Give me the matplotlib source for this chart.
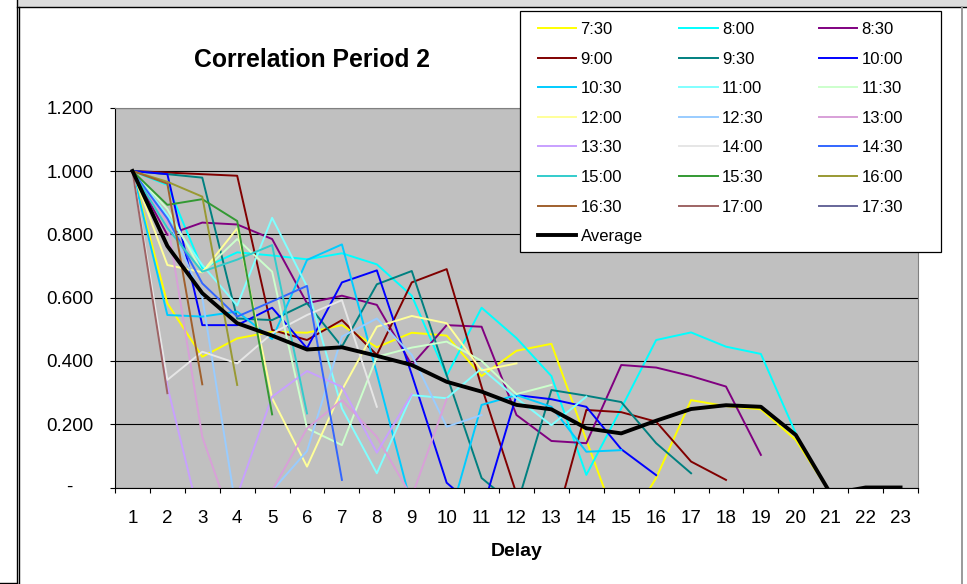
import numpy as np
import matplotlib.pyplot as plt
from matplotlib.lines import Line2D
from matplotlib.patches import Rectangle

plt.rcParams["font.family"] = ["Liberation Sans", "DejaVu Sans"]

W, H = 967, 584

delay = list(range(1, 24))

# correlation by delay for each start time
s0730 = [1.000, 0.582, 0.413, 0.471, 0.492, 0.489, 0.513, 0.443, 0.489, 0.480, 0.352,
         0.432, 0.454, 0.150, -0.150, 0.030, 0.276, 0.257, 0.247, 0.150, -0.020]
s0800 = [1.000, 0.956, 0.692, 0.743, 0.733, 0.721, 0.740, 0.705, 0.606, 0.353, 0.568,
         0.472, 0.352, 0.040, 0.250, 0.466, 0.490, 0.445, 0.422, 0.171]
s0830 = [1.000, 0.798, 0.837, 0.831, 0.785, 0.582, 0.606, 0.577, 0.387, 0.513, 0.508,
         0.229, 0.147, 0.140, 0.387, 0.379, 0.352, 0.319, 0.103]
s0900 = [1.000, 0.995, 0.990, 0.985, 0.498, 0.466, 0.529, 0.419, 0.648, 0.690, 0.318,
         -0.020, -0.157, 0.245, 0.238, 0.208, 0.082, 0.024]
s0930 = [1.000, 0.990, 0.979, 0.534, 0.529, 0.582, 0.445, 0.642, 0.684, 0.355, 0.030,
         -0.061, 0.308, 0.290, 0.270, 0.140, 0.045]
s1000 = [1.000, 0.990, 0.513, 0.513, 0.568, 0.440, 0.648, 0.686, 0.357, 0.015, -0.080,
         0.292, 0.279, 0.255, 0.121, 0.039]
s1030 = [1.000, 0.545, 0.540, 0.556, 0.469, 0.719, 0.768, 0.360, -0.060, -0.129, 0.261,
         0.292, 0.255, 0.113, 0.118]
s1100 = [1.000, 0.860, 0.703, 0.575, 0.852, 0.635, 0.250, 0.045, 0.292, 0.282, 0.376,
         0.282, 0.197, 0.287]
s1130 = [1.000, 0.880, 0.680, 0.785, 0.682, 0.187, 0.134, 0.413, 0.442, 0.461, 0.400,
         0.295, 0.324]
s1200 = [1.000, 0.703, 0.680, 0.819, 0.282, 0.066, 0.308, 0.508, 0.542, 0.519, 0.370, 0.392]
s1230 = [1.000, 0.850, 0.600, -0.090, -0.010, 0.115, 0.477, 0.534, 0.419, 0.192, 0.229]
s1300 = [1.000, 0.840, 0.160, -0.156, -0.010, 0.187, 0.276, 0.160, -0.030, 0.280]
s1330 = [1.000, 0.320, -0.130, -0.025, 0.287, 0.368, 0.318, 0.110, 0.295]
s1400 = [1.000, 0.340, 0.429, 0.392, 0.487, 0.545, 0.592, 0.255]
s1430 = [1.000, 0.850, 0.645, 0.540, 0.588, 0.637, 0.024]
s1500 = [1.000, 0.820, 0.682, 0.720, 0.766, 0.234]
s1530 = [1.000, 0.893, 0.911, 0.842, 0.231]
s1600 = [1.000, 0.966, 0.919, 0.324]
s1630 = [1.000, 0.960, 0.326]
s1700 = [1.000, 0.298]
s1730 = [1.000]

average = [1.000, 0.763, 0.614, 0.519, 0.480, 0.436, 0.443, 0.416, 0.387, 0.334, 0.303,
           0.261, 0.247, 0.187, 0.171, 0.211, 0.248, 0.260, 0.255, 0.166, -0.020, 0.000, 0.000]

times = ["7:30", "8:00", "8:30", "9:00", "9:30", "10:00", "10:30", "11:00", "11:30",
         "12:00", "12:30", "13:00", "13:30", "14:00", "14:30", "15:00", "15:30",
         "16:00", "16:30", "17:00", "17:30"]
series = [s0730, s0800, s0830, s0900, s0930, s1000, s1030, s1100, s1130, s1200, s1230,
          s1300, s1330, s1400, s1430, s1500, s1530, s1600, s1630, s1700, s1730]

y_ticks = [0.0, 0.2, 0.4, 0.6, 0.8, 1.0, 1.2]
y_labels = ["", "0.200", "0.400", "0.600", "0.800", "1.000", "1.200"]

colors = ["#FFFF00", "#00FFFF", "#800080", "#800000", "#008080", "#0000FF", "#00CCFF",
          "#80FFFF", "#CCFFCC", "#FFFF99", "#99CCFF", "#D8A0D8", "#C8A0FF", "#E6E6E6",
          "#3366FF", "#33CCCC", "#339933", "#999933", "#A0602D", "#9E6464", "#666699"]


def fx(x):
    return x / W


def fy(y):
    return 1 - y / H


fig = plt.figure(figsize=(W / 100, H / 100), dpi=100)

# window chrome around the chart
fig.add_artist(Rectangle((fx(17), fy(7)), 1 - fx(17), fy(0) - fy(7),
                         transform=fig.transFigure, facecolor="#DCDCDC", edgecolor="none"))
fig.add_artist(Line2D([fx(17), 1], [fy(7), fy(7)], color="black", lw=1))
fig.add_artist(Line2D([fx(16.7), fx(16.7)], [fy(0), fy(583)], color="black", lw=1))
fig.add_artist(Line2D([fx(19.3), fx(19.3)], [fy(7), fy(584)], color="black", lw=1))
fig.add_artist(Line2D([0, fx(17)], [fy(582.5), fy(582.5)], color="black", lw=1))
fig.add_artist(Line2D([fx(962), fx(962)], [fy(7), fy(584)], color="#9A9A9A", lw=1.4))

ax = fig.add_axes([fx(115), fy(487.5), fx(918) - fx(115), fy(107.7) - fy(487.5)])
ax.set_facecolor("#C0C0C0")

handles = []
for lab, vals, c in zip(times, series, colors):
    h, = ax.plot(delay[:len(vals)], vals, color=c, lw=1.4, label=lab)
    handles.append(h)
avg_line, = ax.plot(delay, average, color="black", lw=2.8, label="Average")

ax.set_xlim(0.5, 23.5)
ax.set_ylim(0, 1.2)

ax.set_xticks(np.arange(0.5, 24, 1))
ax.set_xticklabels([])
ax.set_xticks(delay, minor=True)
ax.set_xticklabels([str(d) for d in delay], minor=True)
ax.tick_params(axis="x", which="major", length=3.6, width=0.8, direction="out")
ax.tick_params(axis="x", which="minor", length=0, pad=16, labelsize=13.5)

ax.set_yticks(y_ticks)
ax.set_yticklabels(y_labels)
ax.tick_params(axis="y", length=3.6, width=0.8, pad=12, labelsize=13.5)
ax.text(fx(69 - 115) * W / 803, 0, "-", transform=ax.get_yaxis_transform(),
        ha="center", va="center", fontsize=13.5)

ax.grid(axis="y", color="black", lw=0.8)
for side in ["top", "right"]:
    ax.spines[side].set_color("#808080")
    ax.spines[side].set_linewidth(0.8)
for side in ["left", "bottom"]:
    ax.spines[side].set_color("black")
    ax.spines[side].set_linewidth(0.8)

fig.text(fx(311.5), fy(60), "Correlation Period 2", fontsize=17.8, fontweight="bold",
         ha="center", va="center")
fig.text(fx(517), fy(551), "Delay", fontsize=14, fontweight="bold",
         ha="center", va="center")

# legend box with three columns, filled row by row
fig.add_artist(Rectangle((fx(520), fy(252)), fx(941) - fx(520), fy(11) - fy(252),
                         transform=fig.transFigure, facecolor="white",
                         edgecolor="black", lw=0.9, zorder=4))
columns = [handles[0::3] + [avg_line], handles[1::3], handles[2::3]]
col_x = [538, 679.3, 819]
for hs, x0 in zip(columns, col_x):
    fig.legend(handles=hs, loc="upper left", bbox_to_anchor=(fx(x0), fy(22)),
               frameon=False, fontsize=12, borderpad=0, borderaxespad=0,
               handlelength=2.3, handletextpad=0.25, labelspacing=0.875)

fig.savefig("out.png", dpi=100)
